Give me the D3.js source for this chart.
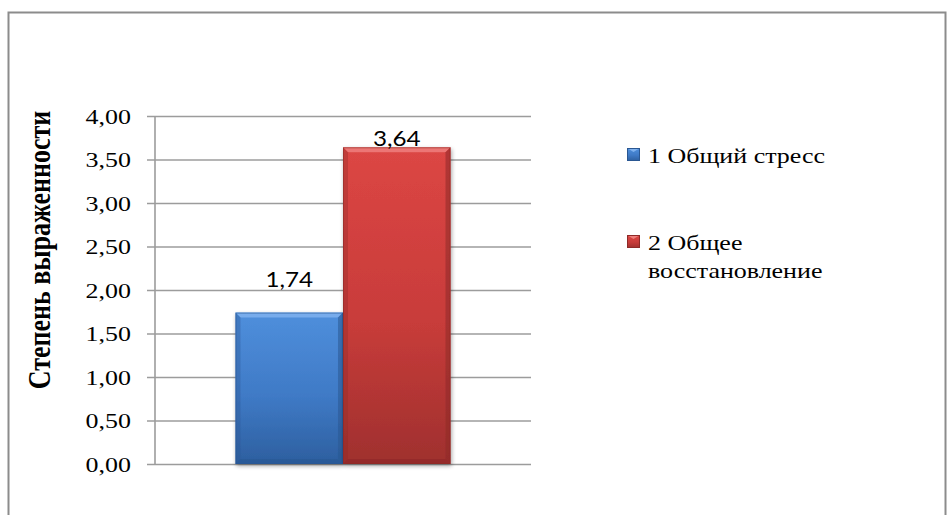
<!DOCTYPE html>
<html>
<head>
<meta charset="utf-8">
<script src="https://cdn.jsdelivr.net/npm/d3@7"></script>
<style>
  html, body { margin: 0; padding: 0; background: #fff; }
  svg { display: block; }
</style>
</head>
<body>
<svg id="chart" width="951" height="515"></svg>
<script>
// Chart data
const categories = ["Шкалы"];
const seriesNames = ["1 Общий стресс", "2 Общее восстановление"];
const seriesLegendLines = [["1 Общий стресс"], ["2 Общее", "восстановление"]];
const seriesValues = [1.74, 3.64];
const seriesLabels = ["1,74", "3,64"];
const yTicks = [0, 0.5, 1, 1.5, 2, 2.5, 3, 3.5, 4];
const yTickLabels = ["0,00", "0,50", "1,00", "1,50", "2,00", "2,50", "3,00", "3,50", "4,00"];
const yTitle = "Степень выраженности";

const SERIF = "Liberation Serif";
const SANS = "Lato";

const svg = d3.select("#chart");
const SX = 1.18; // horizontal text stretch

const palette = [
  { top: "#4f8fdc", mid: "#3f7ac6", bot: "#2d5f9f", bevel: "#7fb1ee", side: "#2a5792" },
  { top: "#dc4644", mid: "#c83c3a", bot: "#9f302e", bevel: "#ee7f7c", side: "#8e2a28" }
];

// defs: gradients and shadow
const defs = svg.append("defs");
palette.forEach((p, i) => {
  const g = defs.append("linearGradient").attr("id", "grad" + i)
    .attr("x1", 0).attr("y1", 0).attr("x2", 0).attr("y2", 1);
  g.append("stop").attr("offset", "0%").attr("stop-color", p.top);
  g.append("stop").attr("offset", "55%").attr("stop-color", p.mid);
  g.append("stop").attr("offset", "100%").attr("stop-color", p.bot);
});
const f = defs.append("filter").attr("id", "shadow").attr("x", "-10%").attr("y", "-10%").attr("width", "130%").attr("height", "130%");
f.append("feGaussianBlur").attr("in", "SourceAlpha").attr("stdDeviation", 2);
f.append("feOffset").attr("dx", 1).attr("dy", 2).attr("result", "ob");
f.append("feComponentTransfer").append("feFuncA").attr("type", "linear").attr("slope", 0.35);
const fm = f.append("feMerge");
fm.append("feMergeNode");
fm.append("feMergeNode").attr("in", "SourceGraphic");

// outer frame
svg.append("rect")
  .attr("x", 8.5).attr("y", 12.5).attr("width", 937).attr("height", 520)
  .attr("fill", "#fff").attr("stroke", "#8c8c8c").attr("stroke-width", 2);

// scales
const y = d3.scaleLinear().domain([0, 4]).range([464, 116]);
const x0 = d3.scaleBand().domain(categories).range([155, 531]).paddingInner(0.2724).paddingOuter(0.2724);
const x1 = d3.scaleBand().domain(seriesNames).range([0, x0.bandwidth()]).padding(0);

// gridlines with tick marks
const gridG = svg.append("g").attr("transform", "translate(155,0)")
  .call(d3.axisLeft(y).tickValues(yTicks).tickSize(-376).tickFormat(""))
  .call(g => g.select(".domain").remove());
gridG.selectAll(".tick line").attr("stroke", "#9c9c9c").attr("stroke-width", 1.6).attr("x2", 376).attr("x1", -8);

// y axis line
svg.append("line").attr("x1", 155).attr("x2", 155).attr("y1", y(4)).attr("y2", y(0))
  .attr("stroke", "#9c9c9c").attr("stroke-width", 1.6);

// tick labels
svg.append("g").selectAll("text").data(yTicks).join("text")
  .attr("transform", (d) => `translate(131,${y(d) + 7.5}) scale(${SX},1)`)
  .attr("text-anchor", "end")
  .attr("font-family", SERIF)
  .attr("font-size", 22).attr("fill", "#000")
  .text((d, i) => yTickLabels[i]);

// y title
svg.append("text")
  .attr("transform", `translate(50,250) scale(${SX},1) rotate(-90)`)
  .attr("text-anchor", "middle")
  .attr("font-family", SERIF)
  .attr("font-weight", "bold").attr("font-size", 26).attr("fill", "#000")
  .text(yTitle);

// bars
const barsG = svg.append("g").attr("transform", `translate(${x0(categories[0])},0)`);
seriesNames.forEach((s, i) => {
  const bx = x1(s), bw = x1.bandwidth();
  const by = y(seriesValues[i]), bh = y(0) - y(seriesValues[i]);
  const p = palette[i];
  const g = barsG.append("g").attr("filter", "url(#shadow)");
  g.append("rect").attr("x", bx).attr("y", by).attr("width", bw).attr("height", bh)
    .attr("fill", `url(#grad${i})`);
  const b = 5;
  // top bevel
  g.append("path").attr("d", `M${bx},${by} L${bx + bw},${by} L${bx + bw - b},${by + b} L${bx + b},${by + b} Z`)
    .attr("fill", p.bevel).attr("opacity", 0.85);
  // left bevel
  g.append("path").attr("d", `M${bx},${by} L${bx + b},${by + b} L${bx + b},${by + bh - b} L${bx},${by + bh} Z`)
    .attr("fill", p.side).attr("opacity", 0.35);
  // right bevel
  g.append("path").attr("d", `M${bx + bw},${by} L${bx + bw - b},${by + b} L${bx + bw - b},${by + bh - b} L${bx + bw},${by + bh} Z`)
    .attr("fill", p.side).attr("opacity", 0.55);
  // bottom bevel
  g.append("path").attr("d", `M${bx},${by + bh} L${bx + b},${by + bh - b} L${bx + bw - b},${by + bh - b} L${bx + bw},${by + bh} Z`)
    .attr("fill", p.side).attr("opacity", 0.6);
  // outline
  g.append("rect").attr("x", bx + 0.5).attr("y", by + 0.5).attr("width", bw - 1).attr("height", bh - 1)
    .attr("fill", "none").attr("stroke", p.side).attr("stroke-opacity", 0.6).attr("stroke-width", 1);
});

// data labels
const labelOffset = [26, 1];
barsG.selectAll("text.lbl").data(seriesNames).join("text").attr("class", "lbl")
  .attr("transform", (s, i) => `translate(${x1(s) + x1.bandwidth() / 2},${y(seriesValues[i]) - labelOffset[i]}) scale(1.1,1)`)
  .attr("text-anchor", "middle")
  .attr("font-family", SANS)
  .attr("font-size", 22).attr("fill", "#000")
  .text((s, i) => seriesLabels[i]);

// legend
const legendY = [148, 235];
const legendG = svg.append("g");
seriesNames.forEach((s, i) => {
  const p = palette[i];
  const g = legendG.append("g");
  const mx = 627, my = legendY[i], mw = 13, mh = 13;
  g.append("rect").attr("x", mx).attr("y", my).attr("width", mw).attr("height", mh).attr("fill", `url(#grad${i})`);
  g.append("path").attr("d", `M${mx},${my} L${mx + mw},${my} L${mx + mw / 2},${my + 4} Z`).attr("fill", p.bevel);
  g.append("rect").attr("x", mx + 0.5).attr("y", my + 0.5).attr("width", mw - 1).attr("height", mh - 1)
    .attr("fill", "none").attr("stroke", p.side).attr("stroke-width", 1);
  seriesLegendLines[i].forEach((line, j) => {
    g.append("text")
      .attr("transform", `translate(648,${my + 15 + j * 28}) scale(${SX},1)`)
      .attr("font-family", SERIF)
      .attr("font-size", 22).attr("fill", "#000")
      .text(line);
  });
});
</script>
</body>
</html>
